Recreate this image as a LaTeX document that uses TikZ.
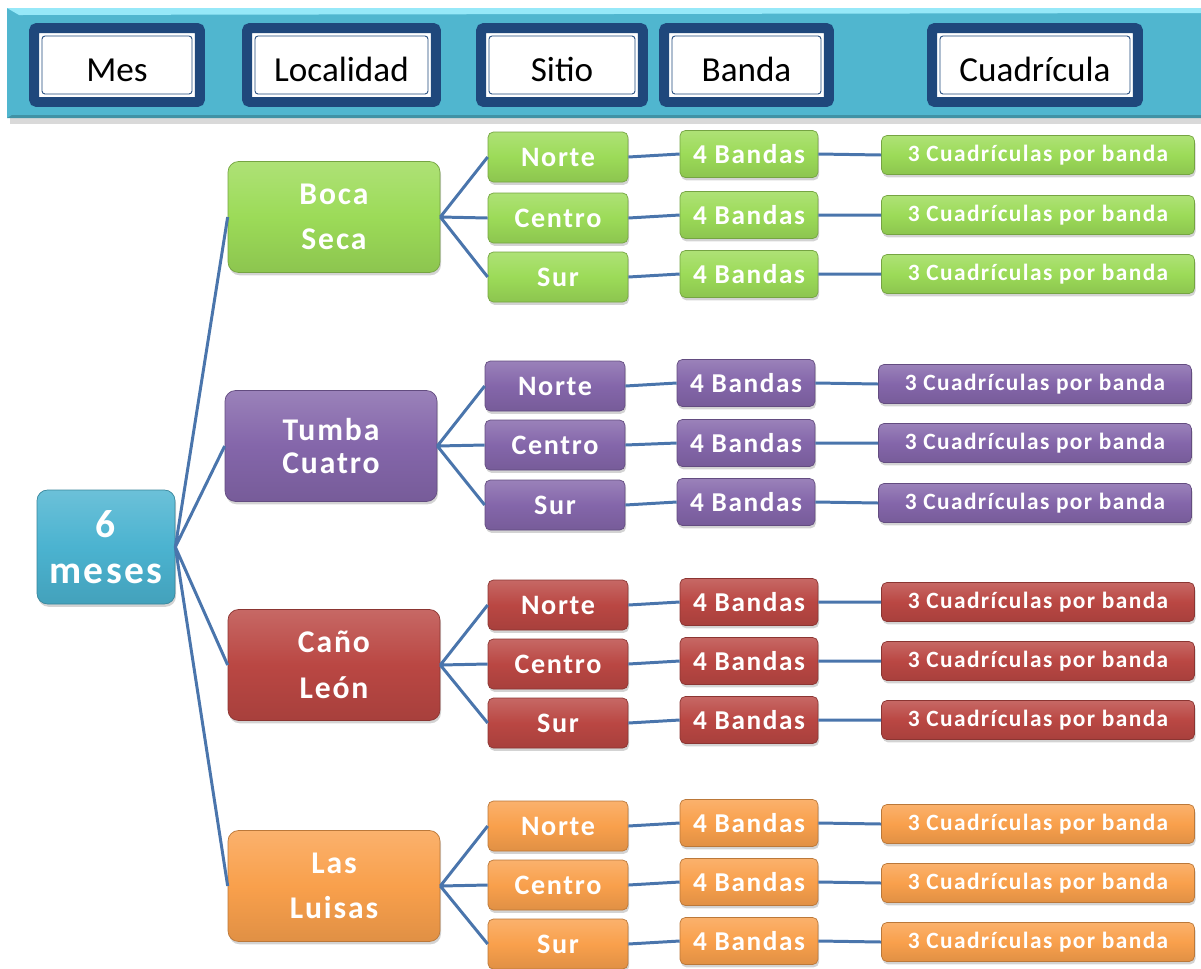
\documentclass[tikz,border=0pt]{standalone}
\usepackage{fontspec}
\setmainfont{Carlito}
\newfontfamily\boxfont{Carlito}[LetterSpace=6]
\usetikzlibrary{shadows}

\definecolor{barblue}{HTML}{50B6CF}
\definecolor{barlight}{HTML}{96E8F8}
\definecolor{hdblue}{HTML}{1F487C}
\definecolor{mesblue}{HTML}{4BB3D0}
\definecolor{grn}{HTML}{9CDB58}
\definecolor{pur}{HTML}{8466AA}
\definecolor{rd}{HTML}{BA4743}
\definecolor{org}{HTML}{F9A04C}
\definecolor{linkblue}{HTML}{4A75AC}

\tikzset{
  box/.style={rounded corners=3pt, draw=#1!75!black, line width=0.4pt,
    top color=#1!82!white, bottom color=#1!90!black, middle color=#1,
    drop shadow={shadow xshift=0.6pt, shadow yshift=-1.6pt, opacity=0.35},
    text=white, align=center, inner sep=0pt},
  mesbox/.style={box=mesblue, rounded corners=6pt, minimum width=2.76cm,
    minimum height=2.28cm, font=\boxfont\bfseries\fontsize{22.5}{26}\selectfont},
  locbox/.style={box=#1, rounded corners=6pt, minimum width=4.24cm,
    minimum height=2.22cm, font=\boxfont\bfseries\fontsize{18}{19}\selectfont},
  sitebox/.style={box=#1, minimum width=2.8cm, minimum height=1cm,
    font=\boxfont\bfseries\fontsize{16}{18}\selectfont},
  bandbox/.style={box=#1, minimum width=2.76cm, minimum height=0.94cm,
    font=\boxfont\bfseries\fontsize{15.5}{18}\selectfont},
  cuadbox/.style={box=#1, minimum width=6.26cm, minimum height=0.78cm,
    font=\boxfont\bfseries\fontsize{13.3}{16}\selectfont},
  headbox/.style={draw=hdblue, line width=0.2cm, rounded corners=0.06cm,
    fill=white, inner sep=0pt, minimum height=1.48cm, text=black,
    text height=0.65cm, text depth=0pt, font=\fontsize{20}{24}\selectfont,
    path picture={\draw[hdblue, line width=0.5pt]
      ([shift={(0.16cm,-0.16cm)}]path picture bounding box.north west) rectangle
      ([shift={(-0.16cm,0.16cm)}]path picture bounding box.south east);}},
  link/.style={linkblue, line width=1.7pt},
}

\begin{document}
\begin{tikzpicture}[x=0.02cm, y=-0.02cm]
  \useasboundingbox (0,0) rectangle (1201,968);

  % header bar
  \fill[black!15] (10,118) rectangle (1201,124);
  \fill[barblue] (7,8) rectangle (1201,118);
  \fill[barlight] (7,8) -- (1201,8) -- (1201,13) -- (19,15) -- cycle;
  \fill[barblue!80!black] (7,118) -- (1201,118) -- (1201,115) -- (12,115) -- cycle;

  \node[headbox, minimum width=3.32cm] (h-mes) at (117,65) {Mes};
  \node[headbox, minimum width=3.78cm] (h-loc) at (341.5,65) {Localidad};
  \node[headbox, minimum width=3.24cm] (h-sitio) at (562,65) {Sitio};
  \node[headbox, minimum width=3.30cm] (h-banda) at (746.5,65) {Banda};
  \node[headbox, minimum width=4.12cm] (h-cuad) at (1035,65) {Cuadrícula};

  % month
  \node[mesbox] (mes) at (106,547) {6\\meses};

  % Boca Seca
  \node[locbox=grn] (boca) at (334,217) {Boca\\[7pt]Seca};
  \node[sitebox=grn] (boca-n) at (558,157) {Norte};
  \node[sitebox=grn] (boca-c) at (558,218) {Centro};
  \node[sitebox=grn] (boca-s) at (558,277) {Sur};
  \node[bandbox=grn] (boca-nb) at (749,154) {4 Bandas};
  \node[bandbox=grn] (boca-cb) at (749,215) {4 Bandas};
  \node[bandbox=grn] (boca-sb) at (749,274) {4 Bandas};
  \node[cuadbox=grn] (boca-nq) at (1038,155) {3 Cuadrículas por banda};
  \node[cuadbox=grn] (boca-cq) at (1038,215) {3 Cuadrículas por banda};
  \node[cuadbox=grn] (boca-sq) at (1038,274) {3 Cuadrículas por banda};

  % Tumba Cuatro
  \node[locbox=pur] (tumba) at (331,446) {Tumba\\Cuatro};
  \node[sitebox=pur] (tumba-n) at (555,386) {Norte};
  \node[sitebox=pur] (tumba-c) at (555,445) {Centro};
  \node[sitebox=pur] (tumba-s) at (555,505) {Sur};
  \node[bandbox=pur] (tumba-nb) at (746,383) {4 Bandas};
  \node[bandbox=pur] (tumba-cb) at (746,443) {4 Bandas};
  \node[bandbox=pur] (tumba-sb) at (746,502) {4 Bandas};
  \node[cuadbox=pur] (tumba-nq) at (1035,384) {3 Cuadrículas por banda};
  \node[cuadbox=pur] (tumba-cq) at (1035,443) {3 Cuadrículas por banda};
  \node[cuadbox=pur] (tumba-sq) at (1035,503) {3 Cuadrículas por banda};

  % Caño León
  \node[locbox=rd] (cano) at (334,665) {Caño\\[7pt]León};
  \node[sitebox=rd] (cano-n) at (558,605) {Norte};
  \node[sitebox=rd] (cano-c) at (558,664) {Centro};
  \node[sitebox=rd] (cano-s) at (558,723) {Sur};
  \node[bandbox=rd] (cano-nb) at (749,602) {4 Bandas};
  \node[bandbox=rd] (cano-cb) at (749,661) {4 Bandas};
  \node[bandbox=rd] (cano-sb) at (749,720) {4 Bandas};
  \node[cuadbox=rd] (cano-nq) at (1038,602) {3 Cuadrículas por banda};
  \node[cuadbox=rd] (cano-cq) at (1038,661) {3 Cuadrículas por banda};
  \node[cuadbox=rd] (cano-sq) at (1038,720) {3 Cuadrículas por banda};

  % Las Luisas
  \node[locbox=org] (luisas) at (334,886) {Las\\[7pt]Luisas};
  \node[sitebox=org] (luisas-n) at (558,826) {Norte};
  \node[sitebox=org] (luisas-c) at (558,885) {Centro};
  \node[sitebox=org] (luisas-s) at (558,944) {Sur};
  \node[bandbox=org] (luisas-nb) at (749,823) {4 Bandas};
  \node[bandbox=org] (luisas-cb) at (749,882) {4 Bandas};
  \node[bandbox=org] (luisas-sb) at (749,941) {4 Bandas};
  \node[cuadbox=org] (luisas-nq) at (1038,824) {3 Cuadrículas por banda};
  \node[cuadbox=org] (luisas-cq) at (1038,883) {3 Cuadrículas por banda};
  \node[cuadbox=org] (luisas-sq) at (1038,942) {3 Cuadrículas por banda};

  % connectors
  \draw[link] (mes.east) -- (boca.west) (mes.east) -- (tumba.west)
    (mes.east) -- (cano.west) (mes.east) -- (luisas.west);

  \draw[link] (boca.east) -- (boca-n.west) (boca.east) -- (boca-c.west) (boca.east) -- (boca-s.west);
  \draw[link] (boca-n.east) -- (boca-nb.west) (boca-nb.east) -- (boca-nq.west);
  \draw[link] (boca-c.east) -- (boca-cb.west) (boca-cb.east) -- (boca-cq.west);
  \draw[link] (boca-s.east) -- (boca-sb.west) (boca-sb.east) -- (boca-sq.west);

  \draw[link] (tumba.east) -- (tumba-n.west) (tumba.east) -- (tumba-c.west) (tumba.east) -- (tumba-s.west);
  \draw[link] (tumba-n.east) -- (tumba-nb.west) (tumba-nb.east) -- (tumba-nq.west);
  \draw[link] (tumba-c.east) -- (tumba-cb.west) (tumba-cb.east) -- (tumba-cq.west);
  \draw[link] (tumba-s.east) -- (tumba-sb.west) (tumba-sb.east) -- (tumba-sq.west);

  \draw[link] (cano.east) -- (cano-n.west) (cano.east) -- (cano-c.west) (cano.east) -- (cano-s.west);
  \draw[link] (cano-n.east) -- (cano-nb.west) (cano-nb.east) -- (cano-nq.west);
  \draw[link] (cano-c.east) -- (cano-cb.west) (cano-cb.east) -- (cano-cq.west);
  \draw[link] (cano-s.east) -- (cano-sb.west) (cano-sb.east) -- (cano-sq.west);

  \draw[link] (luisas.east) -- (luisas-n.west) (luisas.east) -- (luisas-c.west) (luisas.east) -- (luisas-s.west);
  \draw[link] (luisas-n.east) -- (luisas-nb.west) (luisas-nb.east) -- (luisas-nq.west);
  \draw[link] (luisas-c.east) -- (luisas-cb.west) (luisas-cb.east) -- (luisas-cq.west);
  \draw[link] (luisas-s.east) -- (luisas-sb.west) (luisas-sb.east) -- (luisas-sq.west);
\end{tikzpicture}
\end{document}
